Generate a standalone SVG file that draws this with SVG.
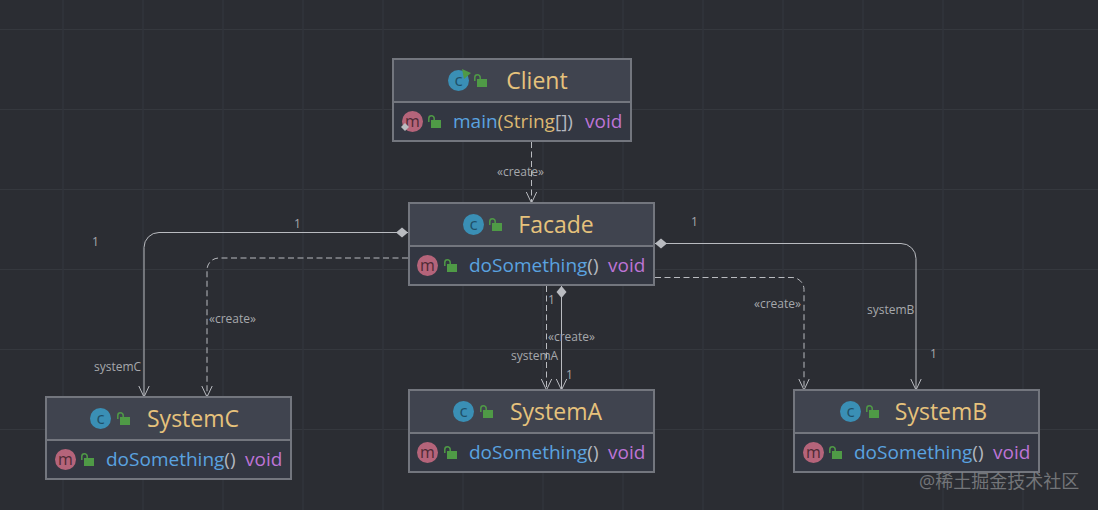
<svg xmlns="http://www.w3.org/2000/svg" width="1098" height="510" viewBox="0 0 1098 510">
<style>
text{font-family:"Open Sans","Noto Sans","Noto Sans CJK SC",sans-serif}
.box{fill:#333742;stroke:#73767e;stroke-width:2}
.head{fill:#40444f}
.div{stroke:#73767e;stroke-width:2}
.title{font-size:23px;fill:#e6c27c;text-anchor:middle}
.m{font-size:19px;fill:#5aa3e0}
.t{font-size:19px;fill:#bd74d6}
.p{fill:#b4b8bf}
.y{fill:#dcb871}
.lab{font-size:12px;fill:#a6a8ac}
.g{stroke:#35383e;stroke-width:1}
.gv{stroke:#32353d;stroke-width:1.5}
.c{fill:none;stroke:#b9bbc0;stroke-width:1}
.d{stroke-dasharray:6 3.5}
.ci{fill:#3a8fb5}
.ct{font-size:17px;fill:#1f4f68;text-anchor:middle}
.mi{fill:#b5647a}
.mt{font-size:16px;fill:#4e2a35;text-anchor:middle}
.lock{fill:#4f9a46}
.sh{fill:none;stroke:#4f9a46;stroke-width:1.5}
.wm{font-size:18px;fill:#8b8d91;fill-opacity:.75}
</style>
<defs>
<marker id="arr" markerUnits="userSpaceOnUse" markerWidth="14" markerHeight="12" refX="12" refY="6" orient="auto"><path d="M1 .8L12 6L1 11.2" fill="none" stroke="#b9bbc0" stroke-width="1"/></marker>
<marker id="dia" markerUnits="userSpaceOnUse" markerWidth="14" markerHeight="12" refX="0.500" refY="6" orient="auto"><path d="M.5 6L6.500 1L12.500 6L6.500 11Z" fill="#b9bbc0"/></marker>
<g id="lk"><rect x="3" y="5" width="10" height="8" class="lock"/><path d="M.8 7V3.400a2.700 2.700 0 0 1 5.400 0V5" class="sh"/></g>
<g id="cI"><circle cx="10.500" cy="10.500" r="10.500" class="ci"/><text x="10.500" y="15.500" class="ct">c</text></g>
<g id="mI"><circle cx="10.500" cy="10.500" r="10.500" class="mi"/><text x="10.500" y="15.500" class="mt">m</text></g>
</defs>
<rect width="1098" height="510" fill="#2b2d33"/>
<g id="grid">
<path class="g" d="M0 29.500H1098M0 109.500H1098M0 189.500H1098M0 269.500H1098M0 349.500H1098M0 429.500H1098"/>
<path class="gv" d="M63 0V510M143 0V510M223 0V510M303 0V510M383 0V510M463 0V510M543 0V510M623 0V510M703 0V510M783 0V510M863 0V510M943 0V510M1023 0V510"/>
</g>
<g id="connectors">
<path class="c d" d="M531.500 142V203" marker-end="url(#arr)"/>
<path class="c" d="M408 232.500H159a15 15 0 0 0 -15 15V397" marker-start="url(#dia)" marker-end="url(#arr)"/>
<path class="c d" d="M408 258H219a12 12 0 0 0 -12 12V397" marker-end="url(#arr)"/>
<path class="c" d="M655 243.500H901a15 15 0 0 1 15 15V390" marker-start="url(#dia)" marker-end="url(#arr)"/>
<path class="c d" d="M655 277.500H792a12 12 0 0 1 12 12V390" marker-end="url(#arr)"/>
<path class="c d" d="M546.500 286V390" marker-end="url(#arr)"/>
<path class="c" d="M561.500 286V390" marker-start="url(#dia)" marker-end="url(#arr)"/>
</g>
<g id="labels">
<text class="lab" x="497" y="176">«create»</text>
<text class="lab" x="294" y="228">1</text>
<text class="lab" x="92" y="246">1</text>
<text class="lab" x="209" y="323">«create»</text>
<text class="lab" x="94" y="371">systemC</text>
<text class="lab" x="691" y="226">1</text>
<text class="lab" x="754" y="308">«create»</text>
<text class="lab" x="867" y="314">systemB</text>
<text class="lab" x="930" y="358">1</text>
<text class="lab" x="548" y="304">1</text>
<text class="lab" x="548" y="341">«create»</text>
<text class="lab" x="511" y="360">systemA</text>
<text class="lab" x="566" y="379">1</text>
</g>
<g id="client">
<rect class="box" x="393" y="59" width="238" height="82"/><rect class="head" x="394" y="60" width="236" height="42"/>
<path class="div" d="M393 102H631"/>
<use href="#cI" x="448" y="70"/><path d="M462 69l9 4-7 6z" fill="#4f9a46"/><use href="#lk" x="474" y="74"/>
<text class="title" x="537" y="89">Client</text>
<use href="#mI" x="402" y="111"/><path d="M405 123l4 4-4 4-4-4z" fill="#b9bbc0"/><use href="#lk" x="428" y="115"/>
<text x="453" y="128" class="m">main<tspan class="y">(String</tspan><tspan class="p">[])</tspan></text><text x="585" y="128" class="t">void</text>
</g>
<g id="facade">
<rect class="box" x="409" y="203" width="245" height="82"/><rect class="head" x="410" y="204" width="243" height="42"/>
<path class="div" d="M409 246H654"/>
<use href="#cI" x="463" y="214"/><use href="#lk" x="489" y="218"/>
<text class="title" x="556" y="233">Facade</text>
<use href="#mI" x="417" y="255"/><use href="#lk" x="444" y="259"/>
<text x="469" y="272" class="m">doSomething<tspan class="p">()</tspan></text><text x="608" y="272" class="t">void</text>
</g>
<g id="systemA">
<rect class="box" x="409" y="390" width="245" height="82"/><rect class="head" x="410" y="391" width="243" height="42"/>
<path class="div" d="M409 433H654"/>
<use href="#cI" x="453" y="401"/><use href="#lk" x="480" y="405"/>
<text class="title" x="556" y="420">SystemA</text>
<use href="#mI" x="417" y="442"/><use href="#lk" x="444" y="446"/>
<text x="469" y="459" class="m">doSomething<tspan class="p">()</tspan></text><text x="608" y="459" class="t">void</text>
</g>
<g id="systemB">
<rect class="box" x="794" y="390" width="245" height="82"/><rect class="head" x="795" y="391" width="243" height="42"/>
<path class="div" d="M794 433H1039"/>
<use href="#cI" x="840" y="401"/><use href="#lk" x="866" y="405"/>
<text class="title" x="941" y="420">SystemB</text>
<use href="#mI" x="803" y="442"/><use href="#lk" x="829" y="446"/>
<text x="854" y="459" class="m">doSomething<tspan class="p">()</tspan></text><text x="993" y="459" class="t">void</text>
</g>
<g id="systemC">
<rect class="box" x="46" y="397" width="245" height="82"/><rect class="head" x="47" y="398" width="243" height="42"/>
<path class="div" d="M46 440H291"/>
<use href="#cI" x="90" y="408"/><use href="#lk" x="117" y="412"/>
<text class="title" x="193" y="427">SystemC</text>
<use href="#mI" x="55" y="449"/><use href="#lk" x="81" y="453"/>
<text x="106" y="466" class="m">doSomething<tspan class="p">()</tspan></text><text x="245" y="466" class="t">void</text>
</g>
<text class="wm" x="919" y="488">@稀土掘金技术社区</text>
</svg>
